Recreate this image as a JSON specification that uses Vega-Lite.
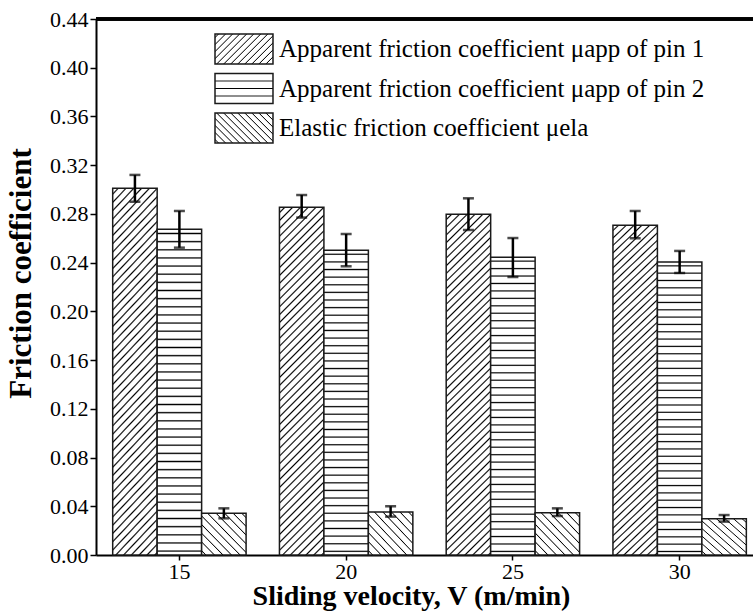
{
  "$schema": "https://vega.github.io/schema/vega-lite/v6.json",
  "autosize": {"type": "none"},
  "padding": {"left": 96, "top": 19, "right": 0, "bottom": 56},
  "width": 657,
  "height": 536,
  "config": {
    "font": "Liberation Serif",
    "view": {"stroke": null},
    "legend": {"labelFont": "Liberation Serif"},
    "axis": {"labelFont": "Liberation Serif", "titleFont": "Liberation Serif", "labelColor": "#000", "titleColor": "#000", "domainColor": "#000", "tickColor": "#000", "grid": false}
  },
  "data": {
    "values": [
      {"v": "15", "series": "Apparent friction coefficient μapp of pin 1", "value": 0.301, "lo": 0.290, "hi": 0.312},
      {"v": "20", "series": "Apparent friction coefficient μapp of pin 1", "value": 0.2855, "lo": 0.277, "hi": 0.2955},
      {"v": "25", "series": "Apparent friction coefficient μapp of pin 1", "value": 0.2797, "lo": 0.2668, "hi": 0.2928},
      {"v": "30", "series": "Apparent friction coefficient μapp of pin 1", "value": 0.2706, "lo": 0.260, "hi": 0.2824},
      {"v": "15", "series": "Apparent friction coefficient μapp of pin 2", "value": 0.2674, "lo": 0.2523, "hi": 0.2824},
      {"v": "20", "series": "Apparent friction coefficient μapp of pin 2", "value": 0.2501, "lo": 0.237, "hi": 0.2635},
      {"v": "25", "series": "Apparent friction coefficient μapp of pin 2", "value": 0.2444, "lo": 0.2282, "hi": 0.2602},
      {"v": "30", "series": "Apparent friction coefficient μapp of pin 2", "value": 0.2405, "lo": 0.2315, "hi": 0.2496},
      {"v": "15", "series": "Elastic friction coefficient μela", "value": 0.0342, "lo": 0.0301, "hi": 0.0383},
      {"v": "20", "series": "Elastic friction coefficient μela", "value": 0.0353, "lo": 0.0315, "hi": 0.0400},
      {"v": "25", "series": "Elastic friction coefficient μela", "value": 0.0347, "lo": 0.0320, "hi": 0.0383},
      {"v": "30", "series": "Elastic friction coefficient μela", "value": 0.0298, "lo": 0.0274, "hi": 0.0328}
    ]
  },
  "layer": [
    {
      "mark": {"type": "bar", "stroke": "#1a1a1a", "strokeWidth": 1.5},
      "encoding": {
        "x": {"field": "v", "type": "ordinal", "title": "Sliding velocity, V (m/min)",
              "scale": {"paddingInner": 0.2, "paddingOuter": 0.07, "align": 0.715},
              "axis": {"labelAngle": 0, "labelFontSize": 22, "labelPadding": 1, "tickSize": 5, "tickWidth": 1.5, "domainWidth": 2,
                       "titleFontSize": 28, "titleFontWeight": "bold", "titleX": 315, "titleY": 49, "titleBaseline": "alphabetic", "titleAlign": "center"}},
        "xOffset": {"field": "series", "type": "nominal", "scale": {"paddingInner": 0, "paddingOuter": 0}},
        "y": {"field": "value", "type": "quantitative", "title": "Friction coefficient",
              "scale": {"domain": [0, 0.44], "nice": false, "zero": true},
              "axis": {"values": [0,0.02,0.04,0.06,0.08,0.1,0.12,0.14,0.16,0.18,0.2,0.22,0.24,0.26,0.28,0.3,0.32,0.34,0.36,0.38,0.4,0.42,0.44],
                       "labelExpr": "round(datum.value*100) % 4 === 0 ? format(datum.value, '.2f') : ''",
                       "tickDash": {"condition": {"test": "round(datum.value*100) % 4 !== 0", "value": [3, 20]}, "value": [10, 0]},
                       "labelFontSize": 22, "labelPadding": 2, "tickSize": 6, "tickWidth": 1.5, "domainWidth": 2, "labelOverlap": false, "labelFlush": false,
                       "titleFontSize": 31, "titleFontWeight": "bold", "titleX": -75, "titleY": 254, "titleBaseline": "middle", "titleAlign": "center", "titleAngle": -90}},
        "fill": {
          "condition": [
            {"test": "indexof(datum.series, 'pin 1') >= 0", "value": {"gradient": "linear", "x1": 0, "y1": 0, "x2": 0.1428, "y2": 1.1103, "stops": [
              {"offset":0.01,"color":"#fff"},{"offset":0.014,"color":"#000"},{"offset":0.018,"color":"#fff"},
              {"offset":0.03,"color":"#fff"},{"offset":0.034,"color":"#000"},{"offset":0.038,"color":"#fff"},
              {"offset":0.05,"color":"#fff"},{"offset":0.054,"color":"#000"},{"offset":0.058,"color":"#fff"},
              {"offset":0.07,"color":"#fff"},{"offset":0.074,"color":"#000"},{"offset":0.078,"color":"#fff"},
              {"offset":0.09,"color":"#fff"},{"offset":0.094,"color":"#000"},{"offset":0.098,"color":"#fff"},
              {"offset":0.11,"color":"#fff"},{"offset":0.114,"color":"#000"},{"offset":0.118,"color":"#fff"},
              {"offset":0.13,"color":"#fff"},{"offset":0.134,"color":"#000"},{"offset":0.138,"color":"#fff"},
              {"offset":0.15,"color":"#fff"},{"offset":0.154,"color":"#000"},{"offset":0.158,"color":"#fff"},
              {"offset":0.17,"color":"#fff"},{"offset":0.174,"color":"#000"},{"offset":0.178,"color":"#fff"},
              {"offset":0.19,"color":"#fff"},{"offset":0.194,"color":"#000"},{"offset":0.198,"color":"#fff"},
              {"offset":0.21,"color":"#fff"},{"offset":0.214,"color":"#000"},{"offset":0.218,"color":"#fff"},
              {"offset":0.23,"color":"#fff"},{"offset":0.234,"color":"#000"},{"offset":0.238,"color":"#fff"},
              {"offset":0.25,"color":"#fff"},{"offset":0.254,"color":"#000"},{"offset":0.258,"color":"#fff"},
              {"offset":0.27,"color":"#fff"},{"offset":0.274,"color":"#000"},{"offset":0.278,"color":"#fff"},
              {"offset":0.29,"color":"#fff"},{"offset":0.294,"color":"#000"},{"offset":0.298,"color":"#fff"},
              {"offset":0.31,"color":"#fff"},{"offset":0.314,"color":"#000"},{"offset":0.318,"color":"#fff"},
              {"offset":0.33,"color":"#fff"},{"offset":0.334,"color":"#000"},{"offset":0.338,"color":"#fff"},
              {"offset":0.35,"color":"#fff"},{"offset":0.354,"color":"#000"},{"offset":0.358,"color":"#fff"},
              {"offset":0.37,"color":"#fff"},{"offset":0.374,"color":"#000"},{"offset":0.378,"color":"#fff"},
              {"offset":0.39,"color":"#fff"},{"offset":0.394,"color":"#000"},{"offset":0.398,"color":"#fff"},
              {"offset":0.41,"color":"#fff"},{"offset":0.414,"color":"#000"},{"offset":0.418,"color":"#fff"},
              {"offset":0.43,"color":"#fff"},{"offset":0.434,"color":"#000"},{"offset":0.438,"color":"#fff"},
              {"offset":0.45,"color":"#fff"},{"offset":0.454,"color":"#000"},{"offset":0.458,"color":"#fff"},
              {"offset":0.47,"color":"#fff"},{"offset":0.474,"color":"#000"},{"offset":0.478,"color":"#fff"},
              {"offset":0.49,"color":"#fff"},{"offset":0.494,"color":"#000"},{"offset":0.498,"color":"#fff"},
              {"offset":0.51,"color":"#fff"},{"offset":0.514,"color":"#000"},{"offset":0.518,"color":"#fff"},
              {"offset":0.53,"color":"#fff"},{"offset":0.534,"color":"#000"},{"offset":0.538,"color":"#fff"},
              {"offset":0.55,"color":"#fff"},{"offset":0.554,"color":"#000"},{"offset":0.558,"color":"#fff"},
              {"offset":0.57,"color":"#fff"},{"offset":0.574,"color":"#000"},{"offset":0.578,"color":"#fff"},
              {"offset":0.59,"color":"#fff"},{"offset":0.594,"color":"#000"},{"offset":0.598,"color":"#fff"},
              {"offset":0.61,"color":"#fff"},{"offset":0.614,"color":"#000"},{"offset":0.618,"color":"#fff"},
              {"offset":0.63,"color":"#fff"},{"offset":0.634,"color":"#000"},{"offset":0.638,"color":"#fff"},
              {"offset":0.65,"color":"#fff"},{"offset":0.654,"color":"#000"},{"offset":0.658,"color":"#fff"},
              {"offset":0.67,"color":"#fff"},{"offset":0.674,"color":"#000"},{"offset":0.678,"color":"#fff"},
              {"offset":0.69,"color":"#fff"},{"offset":0.694,"color":"#000"},{"offset":0.698,"color":"#fff"},
              {"offset":0.71,"color":"#fff"},{"offset":0.714,"color":"#000"},{"offset":0.718,"color":"#fff"},
              {"offset":0.73,"color":"#fff"},{"offset":0.734,"color":"#000"},{"offset":0.738,"color":"#fff"},
              {"offset":0.75,"color":"#fff"},{"offset":0.754,"color":"#000"},{"offset":0.758,"color":"#fff"},
              {"offset":0.77,"color":"#fff"},{"offset":0.774,"color":"#000"},{"offset":0.778,"color":"#fff"},
              {"offset":0.79,"color":"#fff"},{"offset":0.794,"color":"#000"},{"offset":0.798,"color":"#fff"},
              {"offset":0.81,"color":"#fff"},{"offset":0.814,"color":"#000"},{"offset":0.818,"color":"#fff"},
              {"offset":0.83,"color":"#fff"},{"offset":0.834,"color":"#000"},{"offset":0.838,"color":"#fff"},
              {"offset":0.85,"color":"#fff"},{"offset":0.854,"color":"#000"},{"offset":0.858,"color":"#fff"},
              {"offset":0.87,"color":"#fff"},{"offset":0.874,"color":"#000"},{"offset":0.878,"color":"#fff"},
              {"offset":0.89,"color":"#fff"},{"offset":0.894,"color":"#000"},{"offset":0.898,"color":"#fff"},
              {"offset":0.91,"color":"#fff"},{"offset":0.914,"color":"#000"},{"offset":0.918,"color":"#fff"},
              {"offset":0.93,"color":"#fff"},{"offset":0.934,"color":"#000"},{"offset":0.938,"color":"#fff"},
              {"offset":0.95,"color":"#fff"},{"offset":0.954,"color":"#000"},{"offset":0.958,"color":"#fff"},
              {"offset":0.97,"color":"#fff"},{"offset":0.974,"color":"#000"},{"offset":0.978,"color":"#fff"},
              {"offset":0.99,"color":"#fff"},{"offset":0.994,"color":"#000"},{"offset":0.998,"color":"#fff"}
            ]}},
            {"test": "indexof(datum.series, 'pin 2') >= 0", "value": {"gradient": "linear", "x1": 0, "y1": 1, "x2": 0, "y2": 0, "stops": [
              {"offset":0.008,"color":"#fff"},{"offset":0.012,"color":"#000"},{"offset":0.016,"color":"#fff"},
              {"offset":0.033,"color":"#fff"},{"offset":0.037,"color":"#000"},{"offset":0.041,"color":"#fff"},
              {"offset":0.058,"color":"#fff"},{"offset":0.062,"color":"#000"},{"offset":0.066,"color":"#fff"},
              {"offset":0.083,"color":"#fff"},{"offset":0.087,"color":"#000"},{"offset":0.091,"color":"#fff"},
              {"offset":0.108,"color":"#fff"},{"offset":0.112,"color":"#000"},{"offset":0.116,"color":"#fff"},
              {"offset":0.133,"color":"#fff"},{"offset":0.137,"color":"#000"},{"offset":0.141,"color":"#fff"},
              {"offset":0.158,"color":"#fff"},{"offset":0.162,"color":"#000"},{"offset":0.166,"color":"#fff"},
              {"offset":0.183,"color":"#fff"},{"offset":0.187,"color":"#000"},{"offset":0.191,"color":"#fff"},
              {"offset":0.208,"color":"#fff"},{"offset":0.212,"color":"#000"},{"offset":0.216,"color":"#fff"},
              {"offset":0.233,"color":"#fff"},{"offset":0.237,"color":"#000"},{"offset":0.241,"color":"#fff"},
              {"offset":0.258,"color":"#fff"},{"offset":0.262,"color":"#000"},{"offset":0.266,"color":"#fff"},
              {"offset":0.283,"color":"#fff"},{"offset":0.287,"color":"#000"},{"offset":0.291,"color":"#fff"},
              {"offset":0.308,"color":"#fff"},{"offset":0.312,"color":"#000"},{"offset":0.316,"color":"#fff"},
              {"offset":0.333,"color":"#fff"},{"offset":0.337,"color":"#000"},{"offset":0.341,"color":"#fff"},
              {"offset":0.358,"color":"#fff"},{"offset":0.362,"color":"#000"},{"offset":0.366,"color":"#fff"},
              {"offset":0.383,"color":"#fff"},{"offset":0.387,"color":"#000"},{"offset":0.391,"color":"#fff"},
              {"offset":0.408,"color":"#fff"},{"offset":0.412,"color":"#000"},{"offset":0.416,"color":"#fff"},
              {"offset":0.433,"color":"#fff"},{"offset":0.437,"color":"#000"},{"offset":0.441,"color":"#fff"},
              {"offset":0.458,"color":"#fff"},{"offset":0.462,"color":"#000"},{"offset":0.466,"color":"#fff"},
              {"offset":0.483,"color":"#fff"},{"offset":0.487,"color":"#000"},{"offset":0.491,"color":"#fff"},
              {"offset":0.508,"color":"#fff"},{"offset":0.512,"color":"#000"},{"offset":0.516,"color":"#fff"},
              {"offset":0.533,"color":"#fff"},{"offset":0.537,"color":"#000"},{"offset":0.541,"color":"#fff"},
              {"offset":0.558,"color":"#fff"},{"offset":0.562,"color":"#000"},{"offset":0.566,"color":"#fff"},
              {"offset":0.583,"color":"#fff"},{"offset":0.587,"color":"#000"},{"offset":0.591,"color":"#fff"},
              {"offset":0.608,"color":"#fff"},{"offset":0.612,"color":"#000"},{"offset":0.616,"color":"#fff"},
              {"offset":0.633,"color":"#fff"},{"offset":0.637,"color":"#000"},{"offset":0.641,"color":"#fff"},
              {"offset":0.658,"color":"#fff"},{"offset":0.662,"color":"#000"},{"offset":0.666,"color":"#fff"},
              {"offset":0.683,"color":"#fff"},{"offset":0.687,"color":"#000"},{"offset":0.691,"color":"#fff"},
              {"offset":0.708,"color":"#fff"},{"offset":0.712,"color":"#000"},{"offset":0.716,"color":"#fff"},
              {"offset":0.733,"color":"#fff"},{"offset":0.737,"color":"#000"},{"offset":0.741,"color":"#fff"},
              {"offset":0.758,"color":"#fff"},{"offset":0.762,"color":"#000"},{"offset":0.766,"color":"#fff"},
              {"offset":0.783,"color":"#fff"},{"offset":0.787,"color":"#000"},{"offset":0.791,"color":"#fff"},
              {"offset":0.808,"color":"#fff"},{"offset":0.812,"color":"#000"},{"offset":0.816,"color":"#fff"},
              {"offset":0.833,"color":"#fff"},{"offset":0.837,"color":"#000"},{"offset":0.841,"color":"#fff"},
              {"offset":0.858,"color":"#fff"},{"offset":0.862,"color":"#000"},{"offset":0.866,"color":"#fff"},
              {"offset":0.883,"color":"#fff"},{"offset":0.887,"color":"#000"},{"offset":0.891,"color":"#fff"},
              {"offset":0.908,"color":"#fff"},{"offset":0.912,"color":"#000"},{"offset":0.916,"color":"#fff"},
              {"offset":0.933,"color":"#fff"},{"offset":0.937,"color":"#000"},{"offset":0.941,"color":"#fff"},
              {"offset":0.958,"color":"#fff"},{"offset":0.962,"color":"#000"},{"offset":0.966,"color":"#fff"},
              {"offset":0.983,"color":"#fff"},{"offset":0.987,"color":"#000"},{"offset":0.991,"color":"#fff"}
            ]}},
            {"test": "indexof(datum.series, 'Elastic') >= 0", "value": {"gradient": "linear", "x1": 0, "y1": 1, "x2": 1.039, "y2": 0.0425, "stops": [
              {"offset":0.037,"color":"#fff"},{"offset":0.05,"color":"#000"},{"offset":0.063,"color":"#fff"},
              {"offset":0.137,"color":"#fff"},{"offset":0.15,"color":"#000"},{"offset":0.163,"color":"#fff"},
              {"offset":0.237,"color":"#fff"},{"offset":0.25,"color":"#000"},{"offset":0.263,"color":"#fff"},
              {"offset":0.337,"color":"#fff"},{"offset":0.35,"color":"#000"},{"offset":0.363,"color":"#fff"},
              {"offset":0.437,"color":"#fff"},{"offset":0.45,"color":"#000"},{"offset":0.463,"color":"#fff"},
              {"offset":0.537,"color":"#fff"},{"offset":0.55,"color":"#000"},{"offset":0.563,"color":"#fff"},
              {"offset":0.637,"color":"#fff"},{"offset":0.65,"color":"#000"},{"offset":0.663,"color":"#fff"},
              {"offset":0.737,"color":"#fff"},{"offset":0.75,"color":"#000"},{"offset":0.763,"color":"#fff"},
              {"offset":0.837,"color":"#fff"},{"offset":0.85,"color":"#000"},{"offset":0.863,"color":"#fff"},
              {"offset":0.937,"color":"#fff"},{"offset":0.95,"color":"#000"},{"offset":0.963,"color":"#fff"}
            ]}}
          ],
          "field": "series", "type": "nominal",
          "scale": {"range": [
            {"signal": "({gradient:'linear',x1:0,y1:0,x2:1.197,y2:0.619,stops:[{offset:0.028,color:'#fff'},{offset:0.04,color:'#000'},{offset:0.052,color:'#fff'},{offset:0.108,color:'#fff'},{offset:0.12,color:'#000'},{offset:0.132,color:'#fff'},{offset:0.188,color:'#fff'},{offset:0.2,color:'#000'},{offset:0.212,color:'#fff'},{offset:0.268,color:'#fff'},{offset:0.28,color:'#000'},{offset:0.292,color:'#fff'},{offset:0.348,color:'#fff'},{offset:0.36,color:'#000'},{offset:0.372,color:'#fff'},{offset:0.428,color:'#fff'},{offset:0.44,color:'#000'},{offset:0.452,color:'#fff'},{offset:0.508,color:'#fff'},{offset:0.52,color:'#000'},{offset:0.532,color:'#fff'},{offset:0.588,color:'#fff'},{offset:0.6,color:'#000'},{offset:0.612,color:'#fff'},{offset:0.668,color:'#fff'},{offset:0.68,color:'#000'},{offset:0.692,color:'#fff'},{offset:0.748,color:'#fff'},{offset:0.76,color:'#000'},{offset:0.772,color:'#fff'},{offset:0.828,color:'#fff'},{offset:0.84,color:'#000'},{offset:0.852,color:'#fff'},{offset:0.908,color:'#fff'},{offset:0.92,color:'#000'},{offset:0.932,color:'#fff'}]})"},
            {"signal": "({gradient:'linear',x1:0,y1:1,x2:0,y2:0,stops:[{offset:0.22,color:'#fff'},{offset:0.25,color:'#000'},{offset:0.28,color:'#fff'},{offset:0.47,color:'#fff'},{offset:0.5,color:'#000'},{offset:0.53,color:'#fff'},{offset:0.72,color:'#fff'},{offset:0.75,color:'#000'},{offset:0.78,color:'#fff'}]})"},
            {"signal": "({gradient:'linear',x1:0,y1:1,x2:1.197,y2:0.381,stops:[{offset:0.028,color:'#fff'},{offset:0.04,color:'#000'},{offset:0.052,color:'#fff'},{offset:0.108,color:'#fff'},{offset:0.12,color:'#000'},{offset:0.132,color:'#fff'},{offset:0.188,color:'#fff'},{offset:0.2,color:'#000'},{offset:0.212,color:'#fff'},{offset:0.268,color:'#fff'},{offset:0.28,color:'#000'},{offset:0.292,color:'#fff'},{offset:0.348,color:'#fff'},{offset:0.36,color:'#000'},{offset:0.372,color:'#fff'},{offset:0.428,color:'#fff'},{offset:0.44,color:'#000'},{offset:0.452,color:'#fff'},{offset:0.508,color:'#fff'},{offset:0.52,color:'#000'},{offset:0.532,color:'#fff'},{offset:0.588,color:'#fff'},{offset:0.6,color:'#000'},{offset:0.612,color:'#fff'},{offset:0.668,color:'#fff'},{offset:0.68,color:'#000'},{offset:0.692,color:'#fff'},{offset:0.748,color:'#fff'},{offset:0.76,color:'#000'},{offset:0.772,color:'#fff'},{offset:0.828,color:'#fff'},{offset:0.84,color:'#000'},{offset:0.852,color:'#fff'},{offset:0.908,color:'#fff'},{offset:0.92,color:'#000'},{offset:0.932,color:'#fff'}]})"}
          ]},
          "legend": {
            "title": null, "orient": "none", "legendX": 132, "legendY": 14, "padding": 0,
            "symbolType": "M-1.933,-1H1.933V1H-1.933Z", "symbolSize": 900, "symbolStrokeWidth": 1.5, "symbolStrokeColor": "#1a1a1a", "symbolOpacity": 1,
            "labelFont": "Liberation Serif", "labelFontSize": 25, "labelColor": "#000", "labelLimit": 700, "labelOffset": 19, "rowPadding": 3.5
          }
        }
      }
    },
    {
      "mark": {"type": "rule", "color": "#000", "strokeWidth": 2.5},
      "encoding": {
        "x": {"field": "v", "type": "ordinal"},
        "xOffset": {"field": "series", "type": "nominal"},
        "y": {"field": "lo", "type": "quantitative", "title": "Friction coefficient"},
        "y2": {"field": "hi"}
      }
    },
    {
      "mark": {"type": "tick", "color": "#000", "thickness": 2.5, "size": 11, "orient": "horizontal"},
      "encoding": {
        "x": {"field": "v", "type": "ordinal"},
        "xOffset": {"field": "series", "type": "nominal"},
        "y": {"field": "lo", "type": "quantitative", "title": "Friction coefficient"}
      }
    },
    {
      "mark": {"type": "tick", "color": "#000", "thickness": 2.5, "size": 11, "orient": "horizontal"},
      "encoding": {
        "x": {"field": "v", "type": "ordinal"},
        "xOffset": {"field": "series", "type": "nominal"},
        "y": {"field": "hi", "type": "quantitative", "title": "Friction coefficient"}
      }
    },
    {
      "mark": {"type": "rule", "color": "#000", "strokeWidth": 2.5},
      "encoding": {
        "y": {"datum": 0.44, "type": "quantitative", "title": "Friction coefficient"}
      }
    }
  ]
}
